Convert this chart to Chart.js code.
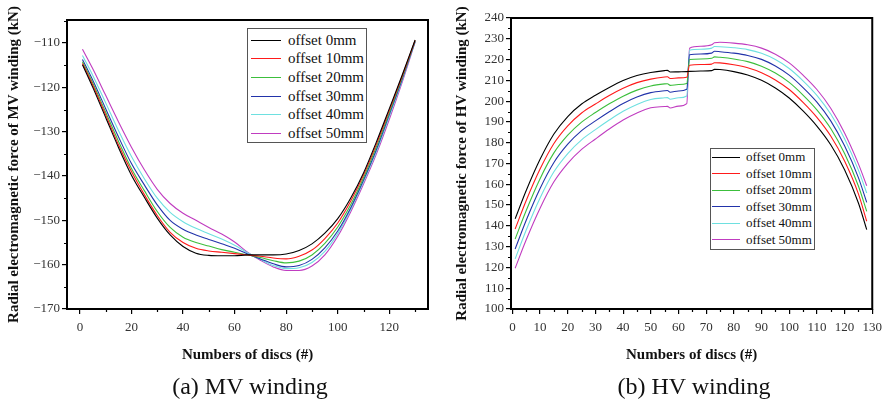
<!DOCTYPE html>
<html>
<head>
<meta charset="utf-8">
<title>Radial electromagnetic force vs disc number</title>
<script src="https://cdn.jsdelivr.net/npm/chart.js@4.4.0/dist/chart.umd.min.js"></script>
<style>
  body { margin: 0; background: #fff; font-family: "Liberation Serif", "Times New Roman", serif; }
  .wrap { position: relative; width: 888px; height: 403px; overflow: hidden; }
  canvas { position: absolute; top: 0; }
  #mvChart { left: 0; }
  #hvChart { left: 444px; }
  .legend { position: absolute; background: #fff; border: 1px solid #555; box-sizing: border-box; }
  .legend .row { display: flex; align-items: center; white-space: nowrap; color: #111; }
  .legend .swatch { display: inline-block; height: 0; border-top: 1.5px solid; }
  .caption { position: absolute; top: 372px; width: 300px; font-size: 24px; line-height: 28px; text-align: center; color: #111; }
</style>
</head>
<body>
<div class="wrap">
  <canvas id="mvChart" width="444" height="403"></canvas>
  <canvas id="hvChart" width="444" height="403"></canvas>
  <div class="legend" id="mvLegend" style="left:247px; top:28px; width:120px; height:115px; padding-top:2px;"></div>
  <div class="legend" id="hvLegend" style="left:710px; top:148px; width:105px; height:102px; padding-top:0px;"></div>
  <div class="caption" style="left:100px;">(a) MV winding</div>
  <div class="caption" style="left:544px;">(b) HV winding</div>
</div>

<script>
// Series names
const offsetLabels = ["offset 0mm", "offset 10mm", "offset 20mm", "offset 30mm", "offset 40mm", "offset 50mm"];

// MV winding (left chart)
const mvDiscs = [1, 5, 10, 15, 20, 25, 30, 35, 40, 45, 50, 55, 60, 65, 70, 75, 80, 85, 90, 95, 100, 105, 110, 115, 120, 125, 130];
const mvOffset0 = [-114.9, -120.0, -126.8, -133.6, -139.8, -144.8, -149.5, -153.3, -155.9, -157.4, -157.9, -158.0, -158.0, -157.8, -157.8, -157.8, -157.6, -156.8, -155.3, -152.9, -149.6, -145.0, -139.3, -132.3, -124.8, -117.2, -109.3];
const mvOffset10 = [-114.6, -119.5, -126.2, -133.0, -139.0, -144.2, -148.9, -152.7, -155.0, -156.3, -156.9, -157.2, -157.5, -157.8, -158.1, -158.5, -158.7, -158.1, -156.7, -154.1, -150.6, -145.7, -139.8, -132.8, -125.2, -117.5, -109.4];
const mvOffset20 = [-114.2, -119.0, -125.6, -132.2, -138.3, -143.3, -148.0, -151.6, -153.8, -155.0, -155.8, -156.6, -157.2, -157.8, -158.4, -159.1, -159.6, -159.2, -157.8, -155.2, -151.5, -146.5, -140.4, -133.4, -125.7, -117.8, -109.5];
const mvOffset30 = [-113.7, -118.4, -124.8, -131.2, -137.2, -142.0, -146.5, -150.0, -152.0, -153.3, -154.3, -155.3, -156.3, -157.6, -158.7, -159.8, -160.5, -160.2, -158.8, -156.2, -152.4, -147.2, -140.9, -134.0, -126.1, -118.1, -109.6];
const mvOffset40 = [-112.8, -117.3, -123.5, -129.8, -135.6, -140.6, -145.0, -148.2, -150.3, -151.8, -153.0, -154.2, -155.6, -157.3, -158.8, -160.2, -160.9, -160.7, -159.5, -157.0, -153.0, -147.6, -141.3, -134.5, -126.6, -118.4, -109.7];
const mvOffset50 = [-111.4, -115.8, -121.8, -127.8, -133.5, -138.6, -143.0, -146.2, -148.4, -150.0, -151.6, -153.1, -154.9, -157.2, -159.0, -160.5, -161.3, -161.3, -160.3, -157.8, -153.6, -148.1, -141.8, -135.0, -127.2, -118.8, -109.8];
const mvXTicks = [0, 20, 40, 60, 80, 100, 120];
const mvXMinor = [10, 30, 50, 70, 90, 110, 130];
const mvYTicks = [-170, -160, -150, -140, -130, -120, -110];
const mvYMinor = [-165, -155, -145, -135, -125, -115, -105];

// HV winding (right chart)
const hvDiscs = [1, 5, 10, 15, 20, 25, 30, 35, 40, 45, 50, 55, 56, 57, 60, 63, 64, 68, 72, 73, 75, 80, 85, 90, 95, 100, 105, 110, 115, 120, 125, 128];
const hvOffset0 = [143.4, 157.0, 172.0, 184.2, 192.6, 198.6, 202.8, 206.6, 209.9, 212.3, 213.8, 214.7, 214.8, 214.0, 214.1, 214.2, 214.3, 214.5, 214.7, 215.3, 215.2, 214.2, 212.6, 210.0, 206.3, 201.5, 195.3, 188.0, 179.0, 167.0, 151.0, 138.2];
const hvOffset10 = [138.5, 152.2, 167.3, 179.6, 188.1, 194.3, 198.6, 202.7, 206.2, 208.9, 210.6, 211.6, 211.7, 210.9, 211.2, 211.5, 217.3, 217.6, 217.8, 218.5, 218.4, 217.5, 216.1, 213.7, 210.2, 205.6, 199.4, 192.2, 183.2, 171.2, 155.4, 142.2];
const hvOffset20 = [133.7, 147.4, 162.7, 175.1, 183.6, 189.9, 194.5, 198.7, 202.4, 205.3, 207.3, 208.3, 208.4, 207.6, 208.0, 208.5, 220.0, 220.3, 220.6, 221.3, 221.1, 220.3, 219.0, 216.8, 213.5, 209.0, 202.9, 195.8, 186.8, 174.8, 159.2, 147.0];
const hvOffset30 = [128.9, 142.7, 158.0, 170.5, 179.3, 185.8, 190.5, 194.9, 198.9, 202.0, 204.1, 205.0, 205.1, 204.3, 204.9, 205.7, 222.3, 222.7, 223.1, 224.0, 223.8, 223.1, 222.0, 220.1, 216.9, 212.5, 206.5, 199.5, 190.5, 178.5, 163.2, 151.3];
const hvOffset40 = [124.1, 138.0, 153.4, 166.0, 174.8, 181.4, 186.3, 190.9, 195.1, 198.4, 200.8, 201.6, 201.7, 200.9, 201.6, 202.5, 224.5, 225.0, 225.5, 226.3, 226.2, 225.7, 224.8, 223.0, 220.0, 215.7, 209.8, 202.8, 193.8, 181.9, 166.8, 155.8];
const hvOffset50 = [119.6, 133.3, 148.5, 161.2, 170.1, 176.8, 181.8, 186.6, 190.9, 194.3, 196.8, 197.4, 197.5, 196.7, 197.6, 198.8, 225.5, 226.4, 227.1, 228.1, 228.3, 227.9, 227.1, 225.5, 222.6, 218.4, 212.5, 205.6, 196.6, 184.7, 169.8, 159.3];
const hvXTicks = [0, 10, 20, 30, 40, 50, 60, 70, 80, 90, 100, 110, 120, 130];
const hvXMinor = [5, 15, 25, 35, 45, 55, 65, 75, 85, 95, 105, 115, 125];
const hvYTicks = [100, 110, 120, 130, 140, 150, 160, 170, 180, 190, 200, 210, 220, 230, 240];
const hvYMinor = [105, 115, 125, 135, 145, 155, 165, 175, 185, 195, 205, 215, 225, 235];

const seriesColors = ["#000000", "#ff1a1a", "#3cbf3c", "#2233aa", "#6ee0e0", "#c03cc0"];

const serif = "'Liberation Serif', 'Times New Roman', serif";

// Outer frame and minor ticks
const framePlugin = {
  id: "frame",
  afterDraw(chart, args, opts) {
    const { ctx, chartArea: a, scales } = chart;
    ctx.save();
    ctx.strokeStyle = "#000";
    ctx.lineWidth = 1.2;
    ctx.beginPath();
    (opts.xMinor || []).forEach((v) => {
      const px = Math.round(scales.x.getPixelForValue(v)) + 0.5;
      ctx.moveTo(px, a.bottom);
      ctx.lineTo(px, a.bottom + 3);
    });
    (opts.yMinor || []).forEach((v) => {
      const py = Math.round(scales.y.getPixelForValue(v)) + 0.5;
      ctx.moveTo(a.left, py);
      ctx.lineTo(a.left - 3, py);
    });
    ctx.stroke();
    ctx.lineWidth = 2;
    ctx.strokeRect(a.left, a.top, a.right - a.left, a.bottom - a.top);
    ctx.restore();
  },
};

function minusFormat(value) {
  return value < 0 ? "\u2212" + Math.abs(value) : String(value);
}

function buildDatasets(discs, seriesList) {
  return seriesList.map((values, i) => ({
    label: offsetLabels[i],
    data: discs.map((d, j) => ({ x: d, y: values[j] })),
    borderColor: seriesColors[i],
    borderWidth: 1.1,
    pointRadius: 0,
    cubicInterpolationMode: "monotone",
    fill: false,
  }));
}

function axisOptions(cfg) {
  return {
    x: {
      type: "linear",
      min: cfg.xMin,
      max: cfg.xMax,
      afterBuildTicks: (scale) => {
        scale.ticks = cfg.xTicks.map((v) => ({ value: v }));
      },
      afterFit: (scale) => {
        scale.height = 60;
      },
      grid: { drawOnChartArea: false, drawTicks: true, tickLength: 5, color: "#000", lineWidth: 1.2 },
      border: { display: false },
      ticks: {
        autoSkip: false,
        maxRotation: 0,
        padding: 6,
        color: "#333",
        font: { family: serif, size: 13 },
        callback: minusFormat,
      },
      title: {
        display: true,
        text: "Numbers of discs (#)",
        color: "#111",
        font: { family: serif, size: 15, weight: "bold" },
        padding: { top: 0, bottom: 5 },
      },
    },
    y: {
      type: "linear",
      min: cfg.yMin,
      max: cfg.yMax,
      afterBuildTicks: (scale) => {
        scale.ticks = cfg.yTicks.map((v) => ({ value: v }));
      },
      afterFit: (scale) => {
        scale.width = 67;
      },
      grid: { drawOnChartArea: false, drawTicks: true, tickLength: 5, color: "#000", lineWidth: 1.2 },
      border: { display: false },
      ticks: {
        autoSkip: false,
        padding: 2,
        color: "#333",
        font: { family: serif, size: 13 },
        callback: minusFormat,
      },
      title: {
        display: true,
        text: cfg.yTitle,
        color: "#111",
        font: { family: serif, size: 15, weight: "bold" },
        padding: { top: cfg.titlePad, bottom: 0 },
      },
    },
  };
}

function buildLegend(id, fontSize, rowHeight, swatchLeft, swatchWidth, gap) {
  const box = document.getElementById(id);
  offsetLabels.forEach((label, i) => {
    const row = document.createElement("div");
    row.className = "row";
    row.style.height = rowHeight + "px";
    row.style.fontSize = fontSize + "px";
    const sw = document.createElement("span");
    sw.className = "swatch";
    sw.style.borderColor = seriesColors[i];
    sw.style.width = swatchWidth + "px";
    sw.style.marginLeft = swatchLeft + "px";
    sw.style.marginRight = gap + "px";
    const txt = document.createElement("span");
    txt.textContent = label;
    row.appendChild(sw);
    row.appendChild(txt);
    box.appendChild(row);
  });
}

// MV winding chart
function initializeMvChart() {
  const ctx = document.getElementById("mvChart");
  new Chart(ctx, {
    type: "line",
    data: {
      datasets: buildDatasets(mvDiscs, [mvOffset0, mvOffset10, mvOffset20, mvOffset30, mvOffset40, mvOffset50]),
    },
    options: {
      responsive: false,
      animation: false,
      layout: { padding: { top: 20, right: 16, bottom: 34, left: 0 } },
      scales: axisOptions({
        xMin: -5, xMax: 135, xTicks: mvXTicks,
        yMin: -170, yMax: -104.8, yTicks: mvYTicks,
        yTitle: "Radial electromagnetic force of MV winding (kN)",
        titlePad: 5,
      }),
      plugins: {
        legend: { display: false },
        tooltip: { enabled: false },
        frame: { xMinor: mvXMinor, yMinor: mvYMinor },
      },
    },
    plugins: [framePlugin],
  });
}

// HV winding chart
function initializeHvChart() {
  const ctx = document.getElementById("hvChart");
  new Chart(ctx, {
    type: "line",
    data: {
      datasets: buildDatasets(hvDiscs, [hvOffset0, hvOffset10, hvOffset20, hvOffset30, hvOffset40, hvOffset50]),
    },
    options: {
      responsive: false,
      animation: false,
      layout: { padding: { top: 18, right: 14, bottom: 34, left: 0 } },
      scales: axisOptions({
        xMin: -0.5, xMax: 130, xTicks: hvXTicks,
        yMin: 100, yMax: 240, yTicks: hvYTicks,
        yTitle: "Radial electromagnetic force of HV winding (kN)",
        titlePad: 9,
      }),
      plugins: {
        legend: { display: false },
        tooltip: { enabled: false },
        frame: { xMinor: hvXMinor, yMinor: hvYMinor },
      },
    },
    plugins: [framePlugin],
  });
}

document.addEventListener("DOMContentLoaded", () => {
  initializeMvChart();
  initializeHvChart();
  buildLegend("mvLegend", 15, 18.6, 3, 30, 7);
  buildLegend("hvLegend", 13, 16.5, 1, 28, 6);
});
</script>
</body>
</html>
